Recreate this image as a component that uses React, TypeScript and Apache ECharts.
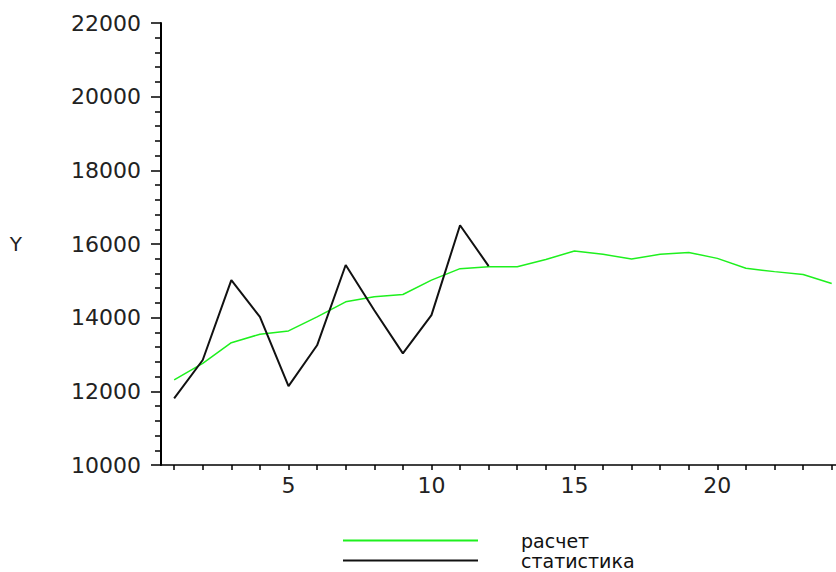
import React, { useEffect, useRef } from "react";
import * as echarts from "echarts";

const xValues = [1, 2, 3, 4, 5, 6, 7, 8, 9, 10, 11, 12, 13, 14, 15, 16, 17, 18, 19, 20, 21, 22, 23, 24];
const calcValues = [12310, 12760, 13320, 13550, 13640, 14020, 14430, 14570, 14630, 15020, 15330, 15380, 15380, 15580, 15810, 15720, 15590, 15720, 15770, 15610, 15340, 15250, 15170, 14930];
const statValues = [11810, 12850, 15020, 14020, 12140, 13250, 15430, 14200, 13030, 14070, 16510, 15400];
const xTickValues = [1, 2, 3, 4, 5, 6, 7, 8, 9, 10, 11, 12, 13, 14, 15, 16, 17, 18, 19, 20, 21, 22, 23, 24];
const xTickLabels = [5, 10, 15, 20];
const seriesNames = ["расчет", "статистика"];
const yAxisName = "Y";

export default function App() {
  const ref = useRef<HTMLDivElement>(null);
  useEffect(() => {
    if (!ref.current) return;
    const chart = echarts.init(ref.current, null, { renderer: "svg" });
    const font = "DejaVu Sans";
    const legendBase = {
      orient: "horizontal",
      left: 343,
      padding: 0,
      itemWidth: 135,
      itemHeight: 2,
      icon: "rect",
      selectedMode: false,
      textStyle: {
        fontFamily: font,
        fontSize: 19,
        lineHeight: 19,
        color: "#111",
        padding: [0, 0, 0, 38],
      },
    };
    chart.setOption({
      animation: false,
      backgroundColor: "#ffffff",
      grid: { left: 161, top: 23, right: 0, bottom: 107, containLabel: false },
      legend: [
        { ...legendBase, top: 531, data: [seriesNames[0]] },
        { ...legendBase, top: 551, data: [seriesNames[1]] },
      ],
      xAxis: {
        type: "value",
        min: 0.54,
        max: 24.15,
        axisLine: { show: true, onZero: false, lineStyle: { color: "#000", width: 1.5 } },
        axisTick: {
          show: true,
          length: 5,
          customValues: xTickValues,
          lineStyle: { color: "#000", width: 1.5 },
        },
        axisLabel: {
          customValues: xTickLabels,
          margin: 9,
          fontFamily: font,
          fontSize: 22,
          color: "#222",
        },
        splitLine: { show: false },
      },
      yAxis: {
        type: "value",
        min: 10000,
        max: 22000,
        interval: 2000,
        name: yAxisName,
        nameLocation: "middle",
        nameRotate: 0,
        nameGap: 139,
        nameTextStyle: { fontFamily: font, fontSize: 20, color: "#222" },
        axisLine: { show: true, onZero: false, lineStyle: { color: "#000", width: 2 } },
        axisTick: { show: true, length: 10, lineStyle: { color: "#000", width: 1.5 } },
        minorTick: { show: true, splitNumber: 5, length: 6, lineStyle: { color: "#000", width: 1.5 } },
        axisLabel: {
          margin: 20,
          fontFamily: font,
          fontSize: 22,
          color: "#222",
          formatter: (v: number) => String(v),
        },
        splitLine: { show: false },
      },
      series: [
        {
          name: seriesNames[0],
          type: "line",
          data: xValues.map((x, i) => [x, calcValues[i]]),
          showSymbol: false,
          color: "#1ef01e",
          itemStyle: { color: "#1ef01e" },
          lineStyle: { color: "#1ef01e", width: 1.5 },
        },
        {
          name: seriesNames[1],
          type: "line",
          data: statValues.map((v, i) => [xValues[i], v]),
          showSymbol: false,
          color: "#111111",
          itemStyle: { color: "#111111" },
          lineStyle: { color: "#111111", width: 2 },
        },
      ],
    });
    return () => chart.dispose();
  }, []);
  return (
    <div
      ref={ref}
      style={{ position: "fixed", left: 0, top: 0, width: 836, height: 572 }}
    />
  );
}
